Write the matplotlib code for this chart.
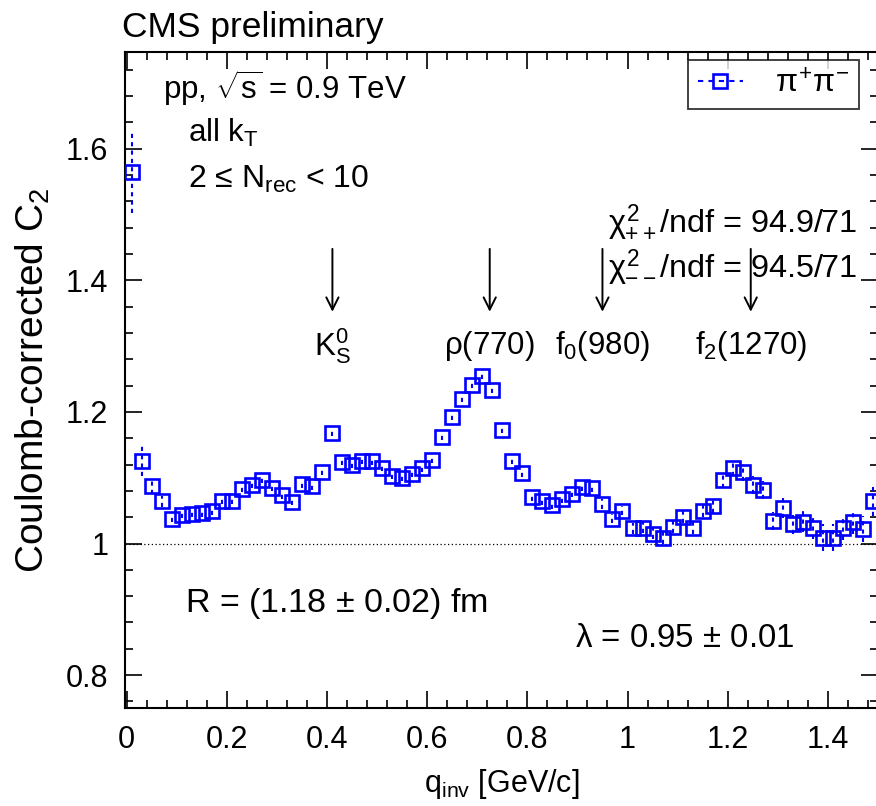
import matplotlib
matplotlib.use("Agg")
import matplotlib.pyplot as plt
from matplotlib.lines import Line2D
from matplotlib.ticker import MultipleLocator, FormatStrFormatter

plt.rcParams["font.family"] = ["Liberation Sans", "DejaVu Sans"]
plt.rcParams["mathtext.fontset"] = "custom"
plt.rcParams["mathtext.rm"] = "Liberation Sans"
plt.rcParams["mathtext.it"] = "Liberation Sans"
plt.rcParams["mathtext.bf"] = "Liberation Sans:bold"

# pi+ pi- correlation, Coulomb corrected, bins of 0.02 GeV/c
q_inv = [0.01, 0.03, 0.05, 0.07, 0.09, 0.11, 0.13, 0.15, 0.17, 0.19,
         0.21, 0.23, 0.25, 0.27, 0.29, 0.31, 0.33, 0.35, 0.37, 0.39,
         0.41, 0.43, 0.45, 0.47, 0.49, 0.51, 0.53, 0.55, 0.57, 0.59,
         0.61, 0.63, 0.65, 0.67, 0.69, 0.71, 0.73, 0.75, 0.77, 0.79,
         0.81, 0.83, 0.85, 0.87, 0.89, 0.91, 0.93, 0.95, 0.97, 0.99,
         1.01, 1.03, 1.05, 1.07, 1.09, 1.11, 1.13, 1.15, 1.17, 1.19,
         1.21, 1.23, 1.25, 1.27, 1.29, 1.31, 1.33, 1.35, 1.37, 1.39,
         1.41, 1.43, 1.45, 1.47, 1.49]
c2 = [1.565, 1.125, 1.088, 1.064, 1.038, 1.044, 1.045, 1.046, 1.049, 1.065,
      1.065, 1.083, 1.089, 1.097, 1.085, 1.073, 1.063, 1.090, 1.087, 1.109,
      1.168, 1.124, 1.120, 1.126, 1.125, 1.115, 1.103, 1.100, 1.106, 1.114,
      1.127, 1.162, 1.193, 1.220, 1.241, 1.255, 1.233, 1.173, 1.126, 1.107,
      1.070, 1.065, 1.058, 1.068, 1.076, 1.086, 1.084, 1.060, 1.038, 1.050,
      1.023, 1.024, 1.015, 1.009, 1.025, 1.040, 1.024, 1.050, 1.057, 1.096,
      1.115, 1.108, 1.089, 1.081, 1.034, 1.054, 1.029, 1.033, 1.024, 1.009,
      1.009, 1.024, 1.032, 1.022, 1.064]
c2_err = [0.063, 0.023, 0.012, 0.008, 0.006, 0.005, 0.005, 0.005, 0.005, 0.005,
          0.005, 0.005, 0.005, 0.005, 0.005, 0.005, 0.005, 0.005, 0.005, 0.005,
          0.005, 0.005, 0.005, 0.005, 0.005, 0.005, 0.005, 0.005, 0.005, 0.005,
          0.005, 0.005, 0.005, 0.005, 0.005, 0.005, 0.005, 0.005, 0.005, 0.006,
          0.006, 0.006, 0.006, 0.006, 0.006, 0.006, 0.006, 0.007, 0.007, 0.007,
          0.008, 0.008, 0.008, 0.009, 0.009, 0.009, 0.010, 0.010, 0.011, 0.012,
          0.012, 0.013, 0.013, 0.014, 0.014, 0.015, 0.015, 0.016, 0.017, 0.021,
          0.021, 0.018, 0.018, 0.020, 0.022]

# resonance positions marked with arrows
res_names = [r"$\mathrm{K^0_S}$", r"$\rho$(770)", r"$\mathrm{f_0}$(980)", r"$\mathrm{f_2}$(1270)"]
res_q = [0.411, 0.725, 0.95, 1.246]

blue = "#0000ff"

fig = plt.figure(figsize=(8.76, 8.06), dpi=100)
ax = fig.add_axes([125 / 876, 1 - 708 / 806, 753 / 876, 656 / 806])

eb = ax.errorbar(q_inv, c2, yerr=c2_err, fmt="s", color=blue, mfc="none",
                 mec=blue, ms=9.5, mew=1.9, elinewidth=1.5, capsize=0, zorder=3)
eb[2][0].set_linestyle((0, (2.0, 2.0)))

ax.axhline(1.0, color="black", lw=0.9, ls=(0, (1, 2)), zorder=1)

for name, q in zip(res_names, res_q):
    ax.annotate("", xy=(q, 1.348), xytext=(q, 1.452),
                arrowprops=dict(arrowstyle="->", lw=1.4, color="black",
                                mutation_scale=22))
    ax.text(q, 1.30, name, fontsize=22.5, ha="center", va="center")

ax.text(0.072, 1.692, r"pp, $\sqrt{\mathrm{s}}$ = 0.9 TeV", fontsize=22.5, va="center")
ax.text(0.122, 1.624, r"all k$_\mathrm{T}$", fontsize=22.5, va="center")
ax.text(0.122, 1.553, r"2 ≤ N$_\mathrm{rec}$ < 10", fontsize=23, va="center")
ax.text(1.458, 1.489, r"$\chi^2_{++}$/ndf = 94.9/71", fontsize=23.3, ha="right", va="center")
ax.text(1.458, 1.420, r"$\chi^2_{--}$/ndf = 94.5/71", fontsize=23.3, ha="right", va="center")
ax.text(0.116, 0.909, r"R = (1.18 $\pm$ 0.02) fm", fontsize=24.5, va="center")
ax.text(0.895, 0.855, r"$\lambda$ = 0.95 $\pm$ 0.01", fontsize=23.8, va="center")

fig.text(122 / 876, 1 - 28 / 806, "CMS preliminary", fontsize=25.5, va="center")

ax.set_xlim(-0.003, 1.5)
ax.set_ylim(0.75, 1.747)
ax.xaxis.set_major_locator(MultipleLocator(0.2))
ax.xaxis.set_minor_locator(MultipleLocator(0.04))
ax.yaxis.set_major_locator(MultipleLocator(0.2))
ax.yaxis.set_minor_locator(MultipleLocator(0.04))
ax.xaxis.set_major_formatter(FormatStrFormatter("%g"))
ax.yaxis.set_major_formatter(FormatStrFormatter("%g"))
ax.tick_params(which="both", direction="in", top=True, right=True, labelsize=22, width=1.2)
ax.tick_params(which="major", length=12, pad=12)
ax.tick_params(which="minor", length=6)
for sp in ax.spines.values():
    sp.set_linewidth(1.5)

ax.set_xlabel(r"q$_\mathrm{inv}$ [GeV/c]", fontsize=22, labelpad=9)
ax.set_ylabel(r"Coulomb-corrected C$_\mathrm{2}$", fontsize=28, labelpad=10)

proxy = Line2D([], [], color=blue, ls=(0, (2.5, 2.5)), lw=1.5, marker="s",
               ms=9.5, mfc="none", mew=1.9)
leg = ax.legend([proxy], [r"$\pi^{+}\pi^{-}$"], loc="upper right",
                bbox_to_anchor=(859 / 876, 1 - 60 / 806),
                bbox_transform=fig.transFigure, fontsize=23, frameon=True,
                fancybox=False, edgecolor="black", handlelength=1.4,
                handletextpad=1.0, borderpad=0.3, borderaxespad=0)
leg.get_frame().set_linewidth(1.3)

fig.savefig("out.png", dpi=100)
